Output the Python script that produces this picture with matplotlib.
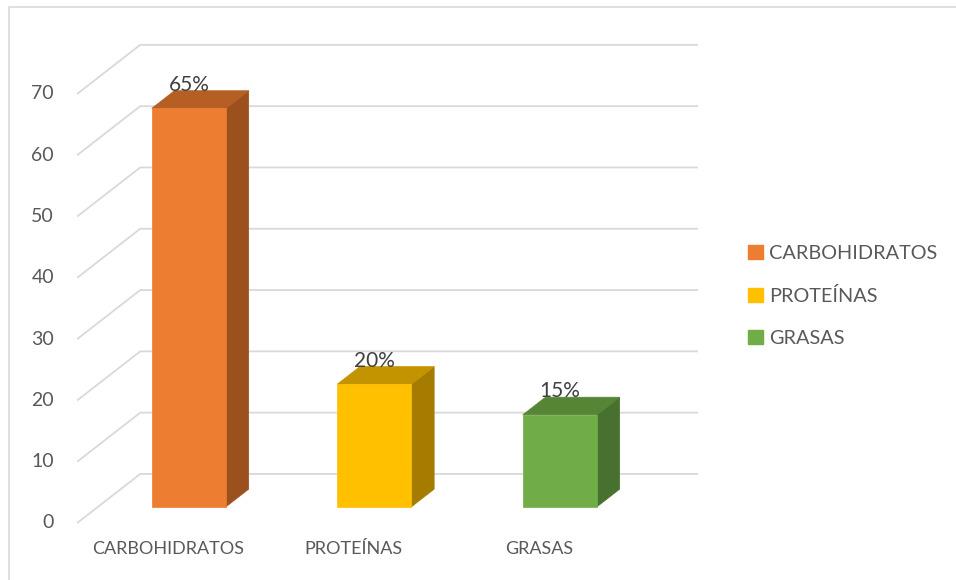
import matplotlib
matplotlib.use("Agg")
import matplotlib.pyplot as plt
from matplotlib.patches import Polygon, Patch
from matplotlib.lines import Line2D

# ---- data ----
categories = ["CARBOHIDRATOS", "PROTEÍNAS", "GRASAS"]
values = [65, 20, 15]
value_labels = ["65%", "20%", "15%"]
y_ticks = [0, 10, 20, 30, 40, 50, 60, 70]

front_colors = ["#ED7D31", "#FFC000", "#70AD47"]
side_colors = ["#9C501E", "#A67C00", "#48702E"]
top_colors = ["#B55F24", "#C49400", "#568536"]

plt.rcParams['font.family'] = ['Lato', 'DejaVu Sans']

fig = plt.figure(figsize=(9.56, 5.8), dpi=100)
ax = fig.add_axes([0, 0, 1, 1])
ax.set_xlim(-0.906, 4.248)
ax.set_ylim(-9.30, 85.32)
ax.axis('off')

# 3D projection parameters (depth shift of the back wall in data units)
DX, DY = 0.34, 8.0
WALL_X0, WALL_X1 = -0.49, 2.857
BAR_W = 0.40
D0, D1 = 0.33, 0.69

grid_c = "#D9D9D9"
for v in y_ticks:
    ax.plot([WALL_X0, WALL_X0 + DX, WALL_X1], [v, v + DY, v + DY],
            color=grid_c, lw=1.3, solid_capstyle='butt', zorder=1)
    ax.text(-0.615, v, str(v), ha='right', va='center', fontsize=14,
            color="#595959")

for i, (v, fc, sc, tc, lab) in enumerate(zip(values, front_colors, side_colors,
                                               top_colors, value_labels)):
    x0 = i - BAR_W / 2 + D0 * DX
    x1 = i + BAR_W / 2 + D0 * DX
    y0 = D0 * DY
    y1 = v + D0 * DY
    ddx = (D1 - D0) * DX
    ddy = (D1 - D0) * DY
    # side
    ax.add_patch(Polygon([(x1, y0), (x1 + ddx, y0 + ddy), (x1 + ddx, y1 + ddy), (x1, y1)],
                         closed=True, facecolor=sc, edgecolor=sc, lw=0.5, zorder=3))
    # top
    ax.add_patch(Polygon([(x0, y1), (x0 + ddx, y1 + ddy), (x1 + ddx, y1 + ddy), (x1, y1)],
                         closed=True, facecolor=tc, edgecolor=tc, lw=0.5, zorder=3))
    # front
    ax.add_patch(Polygon([(x0, y0), (x1, y0), (x1, y1), (x0, y1)],
                         closed=True, facecolor=fc, edgecolor=fc, lw=0.5, zorder=4))
    ax.text(i + D0 * DX, y1 + ddy, lab, ha='center', va='baseline',
            fontsize=15, color="#404040", zorder=5)
    ax.text(i, -4.24, categories[i], ha='center', va='center', fontsize=13,
            color="#595959")

handles = [Patch(facecolor=c, edgecolor=c) for c in front_colors]
leg = fig.legend(handles, categories, loc='upper left',
                 bbox_to_anchor=(738 / 956, 1 - 235 / 580), frameon=False,
                 fontsize=14.3, handlelength=0.75, handleheight=0.7,
                 handletextpad=0.3, labelspacing=1.27, borderpad=0)
for t in leg.get_texts():
    t.set_color("#595959")

# chart border (top and left visible)
fig.add_artist(Line2D([9 / 956, 9 / 956, 1], [0, 1 - 7 / 580, 1 - 7 / 580],
                      transform=fig.transFigure, color="#D9D9D9", lw=1.2))

fig.savefig("out.png", dpi=100)
